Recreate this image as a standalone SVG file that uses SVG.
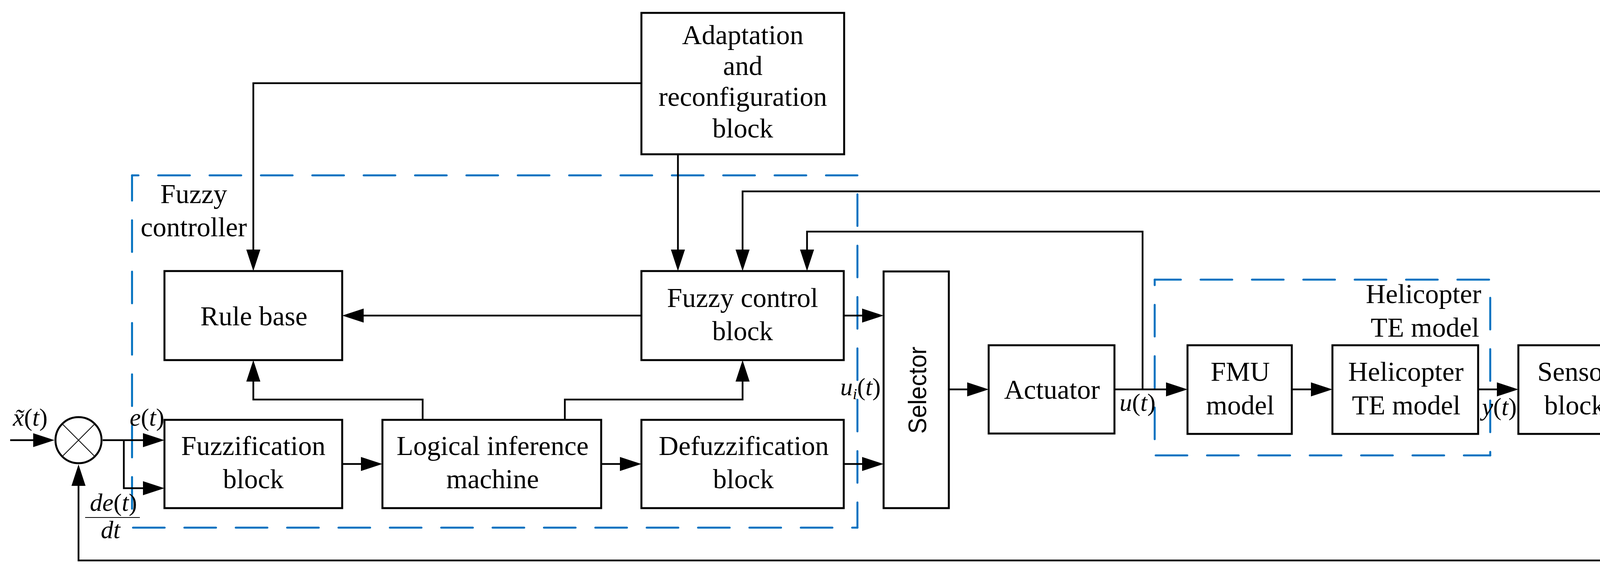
<svg xmlns="http://www.w3.org/2000/svg" width="4277" height="1462" viewBox="0 0 4277 1462">
<style>
.box{fill:#fff;stroke:#000;stroke-width:5}
.t{font-family:"Liberation Serif",serif;font-size:70px;text-anchor:middle;fill:#000}
.m{font-family:"Liberation Serif",serif;font-size:64px;fill:#000}
.i{font-style:italic}
.c{fill:none;stroke:#000;stroke-width:4.5;marker-end:url(#a)}
.n{fill:none;stroke:#000;stroke-width:4.5}
.d{stroke:#0070C0;stroke-width:5;stroke-dasharray:81 50.5;stroke-linecap:round;fill:none}
</style>
<defs>
<marker id="a" markerUnits="userSpaceOnUse" markerWidth="56" markerHeight="38" viewBox="0 0 56 38" refX="45" refY="19" orient="auto"><path d="M0,1 L55,19 L0,37 Z" fill="#000"/></marker>
</defs>
<rect width="4277" height="1462" fill="#fff"/>

<g id="fuzzy-controller-frame">
<line class="d" x1="338" y1="449" x2="2195" y2="449" stroke-dashoffset="64.5"/>
<line class="d" x1="2195" y1="449" x2="2195" y2="1351" stroke-dashoffset="83"/>
<line class="d" x1="338" y1="1351" x2="2195" y2="1351" stroke-dashoffset="129"/>
<line class="d" x1="338" y1="449" x2="338" y2="1351" stroke-dashoffset="16.5"/>
<text class="t" x="496" y="520">Fuzzy</text>
<text class="t" x="496" y="605">controller</text>
</g>

<g id="helicopter-frame">
<line class="d" x1="2956" y1="716" x2="3815" y2="716" stroke-dashoffset="14"/>
<line class="d" x1="3815" y1="716" x2="3815" y2="1166" stroke-dashoffset="85"/>
<line class="d" x1="2956" y1="1166" x2="3815" y2="1166" stroke-dashoffset="129"/>
<line class="d" x1="2956" y1="716" x2="2956" y2="1166" stroke-dashoffset="67"/>
<text class="t" x="3792" y="776" style="text-anchor:end">Helicopter</text>
<text class="t" x="3787" y="862" style="text-anchor:end">TE model</text>
</g>

<g id="connectors">
<path class="c" d="M26,1127 H129.5"/>
<path class="c" d="M263,1127 H411"/>
<path class="c" d="M317,1127 V1250 H411"/>
<path class="c" d="M876,1188 H969"/>
<path class="c" d="M1539,1188 H1632"/>
<path class="c" d="M1082,1075 V1023 H648.5 V932"/>
<path class="c" d="M1446,1075 V1023 H1901 V932"/>
<path class="c" d="M1642,808 H886"/>
<path class="c" d="M1642,213 H648.5 V684"/>
<path class="c" d="M1735.5,395 V684"/>
<path class="c" d="M2160,808 H2252"/>
<path class="c" d="M2160,1188 H2252"/>
<path class="c" d="M2429,997 H2521"/>
<path class="c" d="M2853,997 H3030"/>
<path class="c" d="M2925,997 V593 H2066 V684"/>
<path class="c" d="M3307,997 H3401"/>
<path class="c" d="M3784,997 H3877"/>
<path class="n" d="M4171,997 H4250"/>
<path class="c" d="M4250,1000 V490 H1901 V684"/>
<path class="c" d="M4250,997 V1435 H201 V1199"/>
</g>

<g id="sum">
<circle cx="201" cy="1127" r="59" fill="#fff" stroke="#000" stroke-width="5"/>
<line x1="159.3" y1="1085.3" x2="242.7" y2="1168.7" stroke="#000" stroke-width="2"/>
<line x1="242.7" y1="1085.3" x2="159.3" y2="1168.7" stroke="#000" stroke-width="2"/>
</g>

<g id="adaptation">
<rect class="box" x="1642" y="33" width="519" height="362"/>
<text class="t" x="1901.5" y="113">Adaptation</text>
<text class="t" x="1901.5" y="192">and</text>
<text class="t" x="1901.5" y="271">reconfiguration</text>
<text class="t" x="1901.5" y="352">block</text>
</g>

<g id="rule-base">
<rect class="box" x="421" y="694" width="455" height="228"/>
<text class="t" x="650" y="833">Rule base</text>
</g>

<g id="fuzzy-control">
<rect class="box" x="1642" y="694" width="518" height="228"/>
<text class="t" x="1901" y="786">Fuzzy control</text>
<text class="t" x="1901" y="871">block</text>
</g>

<g id="fuzzification">
<rect class="box" x="421" y="1075" width="455" height="226"/>
<text class="t" x="648.5" y="1165">Fuzzification</text>
<text class="t" x="648.5" y="1250">block</text>
</g>

<g id="inference">
<rect class="box" x="979" y="1075" width="560" height="226"/>
<text class="t" x="1261" y="1165">Logical inference</text>
<text class="t" x="1261" y="1250">machine</text>
</g>

<g id="defuzzification">
<rect class="box" x="1642" y="1075" width="518" height="226"/>
<text class="t" x="1904" y="1165">Defuzzification</text>
<text class="t" x="1903" y="1250">block</text>
</g>

<g id="selector">
<rect class="box" x="2262" y="695" width="167" height="606"/>
<text transform="translate(2371,999) rotate(-90)" text-anchor="middle" font-family="Liberation Sans, Arial, sans-serif" font-size="64" textLength="223" lengthAdjust="spacingAndGlyphs">Selector</text>
</g>

<g id="actuator">
<rect class="box" x="2531" y="884" width="322" height="226"/>
<text class="t" x="2693" y="1021">Actuator</text>
</g>

<g id="fmu">
<rect class="box" x="3040" y="884" width="267" height="227"/>
<text class="t" x="3175" y="975">FMU</text>
<text class="t" x="3175" y="1061">model</text>
</g>

<g id="helicopter">
<rect class="box" x="3411" y="884" width="373" height="227"/>
<text class="t" x="3599" y="975">Helicopter</text>
<text class="t" x="3600" y="1061">TE model</text>
</g>

<g id="sensor">
<rect class="box" x="3887" y="884" width="284" height="227"/>
<text class="t" x="4031" y="975">Sensor</text>
<text class="t" x="4031" y="1061">block</text>
</g>

<g id="labels">
<text class="m" x="33" y="1090"><tspan class="i">x̃</tspan>(<tspan class="i">t</tspan>)</text>
<text class="m" x="332" y="1090"><tspan class="i">e</tspan>(<tspan class="i">t</tspan>)</text>
<text class="m" x="230" y="1308"><tspan class="i">de</tspan>(<tspan class="i">t</tspan>)</text>
<line x1="218" y1="1325" x2="358" y2="1325" stroke="#000" stroke-width="2"/>
<text class="m" x="283" y="1378" text-anchor="middle"><tspan class="i">dt</tspan></text>
<text class="m" x="2151" y="1012"><tspan class="i">u</tspan><tspan class="i" font-size="40" dy="10">i</tspan><tspan dy="-10">(</tspan><tspan class="i">t</tspan>)</text>
<text class="m" x="2866" y="1052"><tspan class="i">u</tspan>(<tspan class="i">t</tspan>)</text>
<text class="m" x="3794" y="1063"><tspan class="i">y</tspan>(<tspan class="i">t</tspan>)</text>
</g>
</svg>
